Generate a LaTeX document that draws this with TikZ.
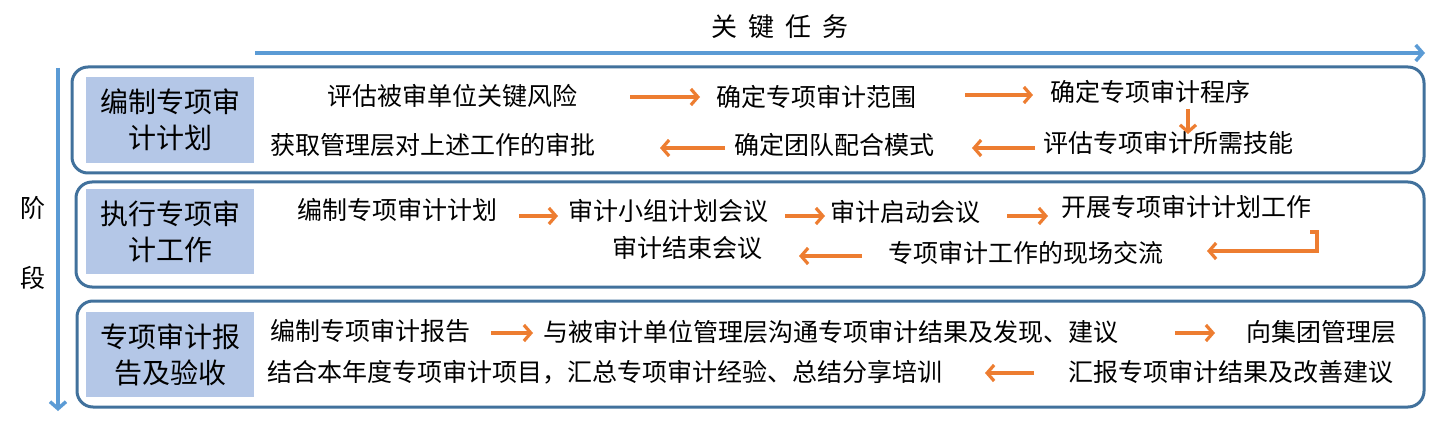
\documentclass[tikz,border=0pt]{standalone}
\usepackage{fontspec}
\setmainfont{Noto Sans CJK SC}
\usetikzlibrary{arrows.meta,calc}
\definecolor{axisblue}{rgb}{0.357,0.608,0.835}
\definecolor{edgeblue}{rgb}{0.255,0.443,0.612}
\definecolor{labfill}{rgb}{0.706,0.780,0.906}
\definecolor{flowor}{rgb}{0.929,0.490,0.192}

\begin{document}
\begin{tikzpicture}[x=1pt,y=-1pt,line join=miter,
  rowbox/.style={draw=edgeblue,line width=3pt,rounded corners=16pt,inner sep=0pt},
  labbox/.style={fill=labfill,inner sep=0pt,minimum width=168pt,minimum height=85pt,align=center,font=\fontsize{28}{36}\selectfont},
  task/.style={inner sep=0pt,font=\fontsize{25}{30}\selectfont},
  flow/.style={draw=flowor,line width=3.2pt,-{Straight Barb[length=7pt,width=16pt]}},
  axis/.style={draw=axisblue,line width=3.5pt,-{Straight Barb[length=7pt,width=16pt]}}]
\useasboundingbox (0,0) rectangle (1442,430);
% axes
\coordinate (taskfrom) at (255,53);
\coordinate (taskto) at (1425,53);
\coordinate (stagefrom) at (58,68);
\coordinate (stageto) at (58,411);
\draw[axis] (taskfrom) -- (taskto);
\draw[axis] (stagefrom) -- (stageto);
\node[task,font=\fontsize{26}{30}\selectfont] (title) at (780,27) {关\hspace{11pt}键\hspace{11pt}任\hspace{11pt}务};
\node[task,font=\fontsize{25}{30}\selectfont] (stagea) at (33,208) {阶};
\node[task,font=\fontsize{25}{30}\selectfont] (stageb) at (33,278) {段};
% rows
\node[rowbox,minimum width=1352pt,minimum height=106pt] (row1) at (748,120) {};
\node[rowbox,minimum width=1348pt,minimum height=105pt] (row2) at (750,234.5) {};
\node[rowbox,minimum width=1347pt,minimum height=106pt] (row3) at (750.5,354) {};
\node[labbox,minimum height=86pt] (lab1) at (170,120) {编制专项审\\计计划};
\node[labbox] (lab2) at (170,231.5) {执行专项审\\计工作};
\node[labbox] (lab3) at (170,354.5) {专项审计报\\告及验收};
% row 1
\node[task] (t11) at (452,96) {评估被审单位关键风险};
\node[task] (t12) at (816,97) {确定专项审计范围};
\node[task] (t13) at (1150,92) {确定专项审计程序};
\node[task] (t14) at (1168,143) {评估专项审计所需技能};
\node[task] (t15) at (834,145) {确定团队配合模式};
\node[task] (t16) at (433,145) {获取管理层对上述工作的审批};
\draw[flow] ($(t11)+(178,1)$) -- ($(t12)+(-116,0)$);
\draw[flow] ($(t12)+(149,-2)$) -- ($(t13)+(-117,3)$);
\draw[flow] ($(t13)+(38,17)$) -- ($(t14)+(20,-9)$);
\draw[flow] ($(t14)+(-133,5)$) -- ($(t15)+(138,3)$);
\draw[flow] ($(t15)+(-109,3)$) -- ($(t16)+(227,3)$);
% row 2
\node[task] (r21) at (397,210) {编制专项审计计划};
\node[task] (r22) at (668,211) {审计小组计划会议};
\node[task] (r23) at (905,212) {审计启动会议};
\node[task] (r24) at (1186,207) {开展专项审计计划工作};
\node[task] (r25) at (1026,253) {专项审计工作的现场交流};
\node[task] (r26) at (687,248) {审计结束会议};
\draw[flow] ($(r21)+(122,6)$) -- ($(r22)+(-110,5)$);
\draw[flow] ($(r22)+(117,5)$) -- ($(r23)+(-80,4)$);
\draw[flow] ($(r23)+(102,4)$) -- ($(r24)+(-138,9)$);
\draw[flow] ($(r24)+(124,25)$) -- ++(7,0) |- ($(r25)+(181,-2)$);
\draw[flow] ($(r25)+(-164,3)$) -- ($(r26)+(112,8)$);
% row 3
\node[task] (r31) at (370,331) {编制专项审计报告};
\node[task] (r32) at (831,332) {与被审计单位管理层沟通专项审计结果及发现、建议};
\node[task] (r33) at (1321,332) {向集团管理层};
\node[task] (r34) at (1231,372) {汇报专项审计结果及改善建议};
\node[task] (r35) at (605,372) {结合本年度专项审计项目，汇总专项审计经验、总结分享培训};
\draw[flow] ($(r31)+(121,2)$) -- ($(r32)+(-298,1)$);
\draw[flow] ($(r32)+(344,1)$) -- ($(r33)+(-106,1)$);
\draw[flow] ($(r34)+(-197,1)$) -- ($(r35)+(380,1)$);
\end{tikzpicture}
\end{document}
